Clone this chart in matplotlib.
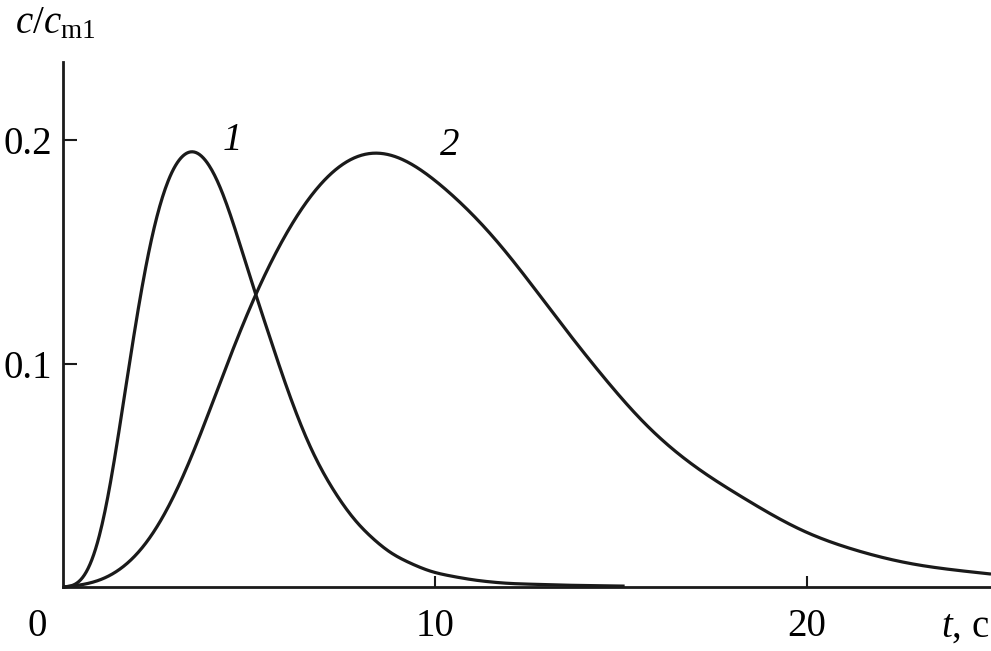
import numpy as np
import matplotlib
matplotlib.use("Agg")
import matplotlib.pyplot as plt

plt.rcParams['font.family'] = ['Liberation Serif', 'DejaVu Serif']
plt.rcParams['mathtext.fontset'] = 'custom'
plt.rcParams['mathtext.rm'] = 'Liberation Serif'
plt.rcParams['mathtext.it'] = 'Liberation Serif:italic'

# кривая 1
t1 = [0.0, 0.37, 0.64, 0.99, 1.26, 1.53, 1.71, 2.07, 2.34, 2.61, 2.97, 3.41,
      3.68, 4.13, 4.58, 4.85, 5.16, 5.48, 5.92, 6.55, 7.00, 7.45, 7.90, 8.79,
      9.87, 11.03, 11.93, 13.5, 15.1]
c1 = [0.0, 0.001, 0.0061, 0.021, 0.0434, 0.0732, 0.0926, 0.130, 0.154, 0.1717,
      0.188, 0.1955, 0.194, 0.1836, 0.1629, 0.1478, 0.1314, 0.1165, 0.0934,
      0.0658, 0.0509, 0.0389, 0.0285, 0.0151, 0.0068, 0.0031, 0.0016, 0.0008,
      0.0004]

# кривая 2
t2 = [0.0, 0.64, 1.26, 2.16, 2.88, 3.68, 4.22, 4.58, 5.16, 5.77, 6.37, 7.09,
      7.72, 8.34, 8.88, 9.51, 10.13, 10.58, 11.48, 12.37, 13.72, 14.62, 15.51,
      16.41, 17.30, 18.20, 19.09, 19.99, 20.89, 21.78, 22.68, 23.58, 24.95]
c2 = [0.0, 0.001, 0.0046, 0.0166, 0.036, 0.0658, 0.0934, 0.1075, 0.1314,
      0.1508, 0.1687, 0.1836, 0.1918, 0.1951, 0.1933, 0.1881, 0.1795, 0.1735,
      0.1590, 0.1403, 0.1105, 0.0926, 0.0747, 0.0613, 0.0501, 0.0412, 0.0320,
      0.0240, 0.0188, 0.0143, 0.0106, 0.0084, 0.0058]

xticks = [10, 20]
yticks = [0.1, 0.2]


def smooth_line(x, y, lam, step=0.025):
    # линейная интерполяция + сглаживание Уиттекера, чтобы убрать изломы
    xs = np.arange(x[0], x[-1] + step / 2, step)
    ys = np.interp(xs, x, y)
    n = len(xs)
    D = np.diff(np.eye(n), 2, axis=0)
    W = np.eye(n)
    W[0, 0] = W[-1, -1] = 1e4  # концы не сдвигаем
    z = np.linalg.solve(W + lam * D.T @ D, W @ ys)
    return xs, np.clip(z, 0, None)


fig = plt.figure(figsize=(9.91, 6.51), dpi=100)
ax = fig.add_axes([0.0636, 0.0983, 0.9364, 0.8065])

for t, c, lam in [(t1, c1, 8e3), (t2, c2, 2e5)]:
    xs, ys = smooth_line(t, c, lam)
    ax.plot(xs, ys, color='#1a1a1a', lw=2.3, clip_on=False, solid_capstyle='butt')

ax.set_xlim(0, 24.95)
ax.set_ylim(0, 0.235)
ax.spines['top'].set_visible(False)
ax.spines['right'].set_visible(False)
for s in ['left', 'bottom']:
    ax.spines[s].set_linewidth(2.0)
    ax.spines[s].set_color('#1a1a1a')

ax.set_xticks(xticks)
ax.set_xticklabels([str(v) for v in xticks])
ax.set_yticks(yticks)
ax.set_yticklabels(['0.1', '0.2'])
ax.tick_params(axis='both', direction='in', labelsize=28, width=1.5, color='#1a1a1a')
ax.tick_params(axis='x', length=8, pad=15)
ax.tick_params(axis='y', length=10, pad=8)

ax.text(-0.7, -0.0178, '0', fontsize=28, ha='center', va='center', clip_on=False)
ax.text(24.9, -0.0178, r'$t$, с', fontsize=28, ha='right', va='center', clip_on=False)
ax.text(-1.3, 0.252, r'$c/c_{\rm m1}$', fontsize=28, ha='left', va='center', clip_on=False)

ax.text(4.55, 0.1999, '1', fontsize=28, style='italic', ha='center', va='center')
ax.text(10.4, 0.1978, '2', fontsize=28, style='italic', ha='center', va='center')

fig.savefig('out.png', dpi=100)
